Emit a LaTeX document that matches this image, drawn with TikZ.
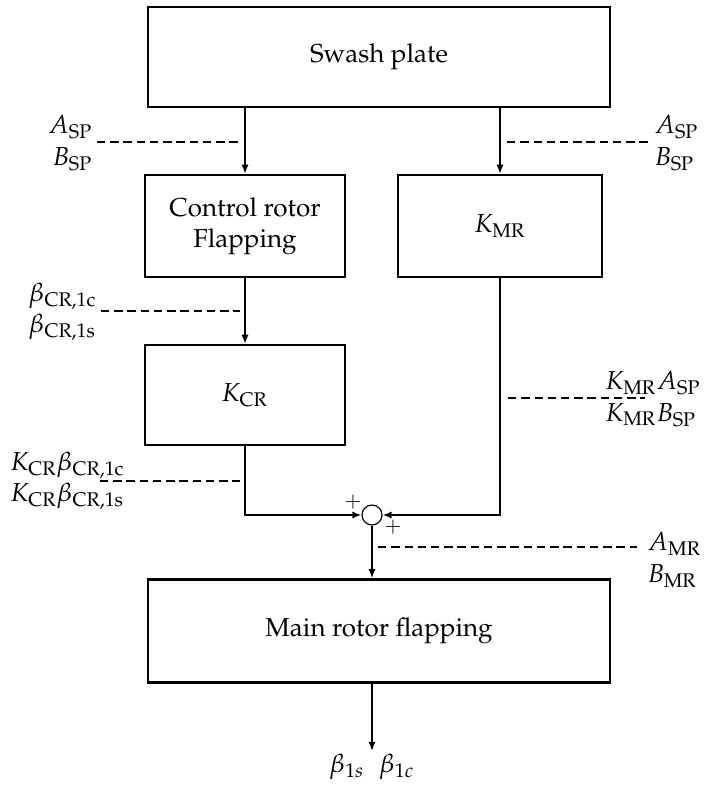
\documentclass[tikz,border=0pt]{standalone}
\usepackage[T1]{fontenc}
\usepackage{mathpazo}
\usepackage{amsmath, amssymb}
\usetikzlibrary{arrows.meta}
\tikzstyle{block}=[draw, line width=0.9pt, inner sep=0pt, align=center]
\tikzstyle{flow}=[line width=0.9pt, -{Latex[length=3.5pt, width=2.8pt]}]
\tikzstyle{tap}=[line width=0.9pt, dash pattern=on 3.2pt off 1.9pt]
\tikzstyle{sig}=[inner sep=1.5pt]
\tikzstyle{sumpt}=[draw, circle, line width=0.45pt, minimum size=7.7pt, inner sep=0pt]

\begin{document}
\begin{tikzpicture}[x=0.385pt, y=-0.385pt]
				\useasboundingbox (0,0) rectangle (723,785);

				\node[block, minimum width=177.9pt, minimum height=38.5pt] (swash) at (379,57) {Swash plate};
				\node[block, minimum width=77pt, minimum height=39.3pt] (ctrl) at (245,226) {Control rotor\\Flapping};
				\node[block, minimum width=78.5pt, minimum height=39.3pt] (kmr) at (500,226) {$K_{\mathrm{MR}}$};
				\node[block, minimum width=77pt, minimum height=38.5pt] (kcr) at (245,395) {$K_{\mathrm{CR}}$};
				\node[block, minimum width=177.9pt, minimum height=39.7pt] (main) at (379,631) {Main rotor flapping};
				\node[sumpt] (sum) at (372,515) {};

				\node[sig] at (353,502) {\footnotesize $+$};
				\node[sig] at (393,527) {\footnotesize $+$};

				\node[sig, anchor=east, align=right] (spl) at (97,143) {$A_{\mathrm{SP}}$\\$B_{\mathrm{SP}}$};
				\node[sig, anchor=west, align=left] (spr) at (650,143) {$A_{\mathrm{SP}}$\\$B_{\mathrm{SP}}$};
				\node[sig, anchor=east, align=left] (bcr) at (101,312) {$\beta_{\mathrm{CR,1c}}$\\$\beta_{\mathrm{CR,1s}}$};
				\node[sig, anchor=west, align=left] (kbcr) at (6,481) {$K_{\mathrm{CR}}\beta_{\mathrm{CR,1c}}$\\$K_{\mathrm{CR}}\beta_{\mathrm{CR,1s}}$};
				\node[sig, anchor=west, align=left] (kasp) at (601,399) {$K_{\mathrm{MR}}A_{\mathrm{SP}}$\\$K_{\mathrm{MR}}B_{\mathrm{SP}}$};
				\node[sig, anchor=west, align=left] (amr) at (643,560) {$A_{\mathrm{MR}}$\\$B_{\mathrm{MR}}$};
				\node[sig, anchor=north, inner sep=1pt] (out) at (372,751) {$\beta_{1s}\;\;\beta_{1c}$};

				\coordinate (tapl) at (240,142);
				\coordinate (tapr) at (507,142);
				\coordinate (tapc) at (240,311);
				\coordinate (tapk) at (240,481);
				\coordinate (kbcrend) at (100,481);
				\coordinate (tapm) at (508,398);
				\coordinate (kaspend) at (645,398);
				\coordinate (tapo) at (378,547);
				\coordinate (amrend) at (637,547);

				\draw[flow] (swash.south -| ctrl) -- (ctrl.north);
				\draw[flow] (swash.south -| kmr) -- (kmr.north);
				\draw[flow] (ctrl.south) -- (kcr.north);
				\draw[flow] (kcr.south) |- (sum.west);
				\draw[flow] (kmr.south) |- (sum.east);
				\draw[flow] (sum.south) -- (main.north -| sum);
				\draw[flow] (main.south -| out) -- (out.north);

				\draw[tap] (spl.east |- tapl) -- (tapl);
				\draw[tap] (tapr) -- (spr.west |- tapr);
				\draw[tap] (bcr.east |- tapc) -- (tapc);
				\draw[tap] (kbcrend) -- (tapk);
				\draw[tap] (tapm) -- (kaspend);
				\draw[tap] (tapo) -- (amrend);
			\end{tikzpicture}
\end{document}
